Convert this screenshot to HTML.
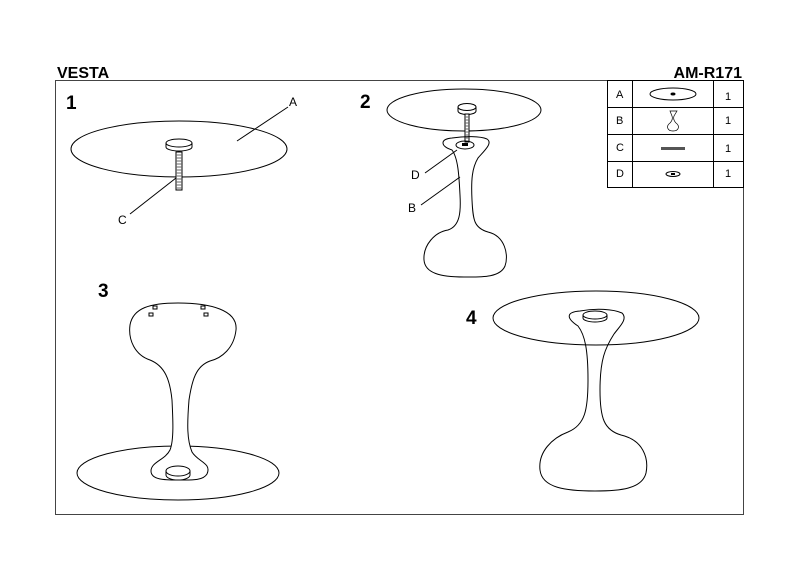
<!DOCTYPE html>
<html><head><meta charset="utf-8"><style>
html,body{margin:0;padding:0;background:#fff;width:800px;height:566px;overflow:hidden}
svg{display:block}
text{font-family:"Liberation Sans",Arial,sans-serif;fill:#000}
</style></head><body>
<svg width="800" height="566" viewBox="0 0 800 566" xmlns="http://www.w3.org/2000/svg">
<g fill="none" stroke="#000" stroke-width="1">
<rect x="55.5" y="80.5" width="688" height="434" stroke="#444"/>
<!-- table -->
<rect x="607.5" y="80.5" width="136" height="107"/>
<line x1="632.5" y1="80" x2="632.5" y2="187"/>
<line x1="713.5" y1="80" x2="713.5" y2="187"/>
<line x1="607" y1="107.5" x2="743" y2="107.5"/>
<line x1="607" y1="134.5" x2="743" y2="134.5"/>
<line x1="607" y1="161.5" x2="743" y2="161.5"/>
<ellipse cx="673" cy="94" rx="23" ry="6"/>
<ellipse cx="673" cy="94" rx="2" ry="1" fill="#000"/>
<path d="M670,111 L677,111 L674,116 C673,119 674,121 676,123 C680,126 679,131 673,131 C667,131 666,126 670,123 C672,121 673,119 672,116 Z" stroke-width="0.7"/>
<rect x="661" y="147" width="24" height="3" fill="#555" stroke="none"/>
<ellipse cx="673" cy="174" rx="7" ry="2.5"/>
<rect x="671" y="173" width="4" height="2" fill="#000" stroke="none"/>

<!-- drawing 1 -->
<ellipse cx="179" cy="149" rx="108" ry="28"/>
<path d="M166,143 L166,147 A13,4 0 0 0 192,147 L192,143"/>
<ellipse cx="179" cy="143" rx="13" ry="4" fill="#fff"/>
<rect x="176" y="152" width="6" height="38" fill="#fff"/>
<path d="M176,155 h6 M176,158 h6 M176,161 h6 M176,164 h6 M176,167 h6 M176,170 h6 M176,173 h6 M176,176 h6 M176,179 h6 M176,182 h6 M176,185 h6 M176,188 h6" stroke="#666"/>
<line x1="288" y1="107" x2="237" y2="141"/>
<line x1="130" y1="214" x2="176" y2="178"/>

<!-- drawing 2 -->
<ellipse cx="464" cy="110" rx="77" ry="21"/>
<ellipse cx="467" cy="107" rx="9" ry="3.5"/>
<path d="M458,107 v4 a9,3.5 0 0 0 18,0 v-4"/>
<rect x="465" y="114" width="4" height="28" fill="#fff"/>
<path d="M465,117 h4 M465,120 h4 M465,123 h4 M465,126 h4 M465,129 h4 M465,132 h4 M465,135 h4 M465,138 h4" stroke="#666"/>
<path d="M452,150 C440,146 440,139 452,138 C465,136 480,136 487,139 C493,143 485,150 478,158 C472,168 471,180 472,200 C473,220 474,228 488,232 C505,236 509,255 505,266 C500,278 480,277 464,277 C440,277 425,273 424,260 C423,245 435,232 448,230 C460,226 461,212 460,195 C459,175 458,158 452,150 Z"/>
<ellipse cx="465" cy="145" rx="9" ry="4"/>
<rect x="462" y="143" width="6" height="3" fill="#000" stroke="none"/>
<line x1="425" y1="173" x2="457" y2="150"/>
<line x1="421" y1="205" x2="460" y2="177"/>

<!-- drawing 3 -->
<ellipse cx="178" cy="473" rx="101" ry="27"/>
<path d="M178,303 C210,303 238,310 236,330 C234,348 222,358 210,361 C196,366 192,380 189,400 C187,425 187,440 192,452 C198,462 212,463 207,474 C203,481 190,480 178,480 C165,480 151,480 151,471 C151,462 165,460 170,450 C174,440 173,420 172,400 C170,380 165,366 150,360 C135,355 128,340 130,325 C133,308 150,303 178,303 Z" fill="#fff"/>
<ellipse cx="178" cy="471" rx="12" ry="5"/>
<path d="M166,471 v4 a12,5 0 0 0 24,0 v-4"/>
<rect x="153" y="306" width="4" height="3"/><rect x="149" y="313" width="4" height="3"/>
<rect x="201" y="306" width="4" height="3"/><rect x="204" y="313" width="4" height="3"/>

<!-- drawing 4 -->
<ellipse cx="596" cy="318" rx="103" ry="27"/>
<path d="M578,326 C566,318 566,312 580,311 C596,308 613,309 622,313 C628,319 620,326 614,334 C605,348 600,360 600,390 C600,418 604,430 621,435 C643,440 649,458 646,473 C642,489 620,491 595,491 C566,491 542,488 540,470 C538,452 552,438 568,432 C585,425 588,410 588,380 C588,350 585,335 578,326 Z"/>
<ellipse cx="595" cy="315" rx="12" ry="4"/>
<path d="M583,315 v3 a12,4 0 0 0 24,0 v-3"/>
</g>

<text x="57" y="78" font-size="16" font-weight="bold">VESTA</text>
<text x="742" y="78" font-size="16" font-weight="bold" text-anchor="end">AM-R171</text>
<text x="66" y="109" font-size="19" font-weight="bold">1</text>
<text x="360" y="108" font-size="19" font-weight="bold">2</text>
<text x="98" y="297" font-size="19" font-weight="bold">3</text>
<text x="466" y="324" font-size="19" font-weight="bold">4</text>
<text x="289" y="106" font-size="12">A</text>
<text x="118" y="224" font-size="12">C</text>
<text x="411" y="179" font-size="12">D</text>
<text x="408" y="212" font-size="12">B</text>
<g font-size="11">
<text x="616" y="98">A</text><text x="616" y="124">B</text><text x="616" y="151">C</text><text x="616" y="177">D</text>
<text x="725" y="100">1</text><text x="725" y="124">1</text><text x="725" y="152">1</text><text x="725" y="177">1</text>
</g>
</svg>
</body></html>
